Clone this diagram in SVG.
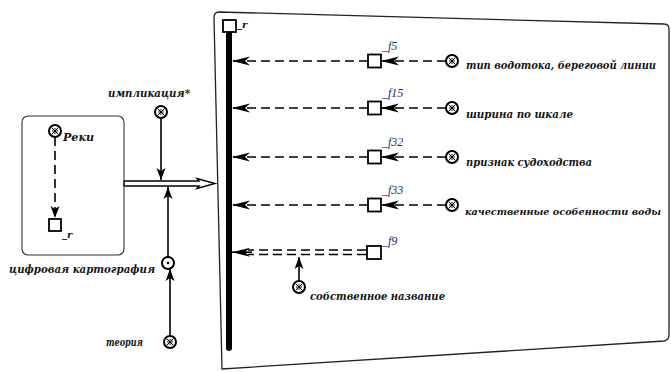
<svg xmlns="http://www.w3.org/2000/svg" width="671" height="372" viewBox="0 0 671 372">
<style>
text{font-family:"DejaVu Serif","Liberation Serif",serif;font-style:italic;font-weight:bold;fill:#151515}
.lbl{font-size:11.5px}
.sm{font-size:10.5px}
.xs{font-size:9.6px}
.f{font-family:"Liberation Serif",serif;font-size:12px;fill:#1d2a6e;font-weight:normal}
.ln{stroke:#000;stroke-width:1.6;fill:none}
.dash{stroke:#000;stroke-width:1.6;fill:none;stroke-dasharray:9 5}
.node{fill:#fff;stroke:#000;stroke-width:1.8}
.circ{fill:#fff;stroke:#000;stroke-width:2}
.x{stroke:#000;stroke-width:1}
</style>
<defs>
<marker id="ah" markerUnits="userSpaceOnUse" markerWidth="18" markerHeight="10" refX="18" refY="5" orient="auto" viewBox="0 0 18 10">
<path d="M0,0.5 L18,5 L0,9.5 L5,5 z" fill="#000"/>
</marker>
<marker id="ahs" markerUnits="userSpaceOnUse" markerWidth="12" markerHeight="10" refX="12" refY="5" orient="auto" viewBox="0 0 12 10">
<path d="M0,0.5 L12,5 L0,9.5 L3,5 z" fill="#000"/>
</marker>
<g id="cx">
<circle r="6" class="circ"/>
<circle r="2.2" fill="none" stroke="#000" stroke-width="0.9"/>
<path d="M-3.5,-3.5 L3.5,3.5 M-3.5,3.5 L3.5,-3.5" class="x"/>
</g>
</defs>

<g id="panel">
<path d="M219,12 L664,24 Q669,24 669,29 L669,335 Q669,340 664,341 L222,369 L214,18 Q214,12 219,12 Z" fill="#fff" stroke="#222" stroke-width="1.3"/>
</g>

<g id="connectors">
<line x1="55" y1="137" x2="55" y2="218" class="dash" marker-end="url(#ahs)"/>
<line x1="161" y1="118" x2="161" y2="180" class="ln" marker-end="url(#ahs)"/>
<line x1="168" y1="257" x2="168" y2="187" class="ln" marker-end="url(#ahs)"/>
<line x1="170" y1="336" x2="170" y2="269" class="ln" marker-end="url(#ahs)"/>
<path d="M124,181 L199,181 L197,178.5 L215,183.5 L197,188.5 L199,186 L124,186 Z" fill="#fff" stroke="#000" stroke-width="1.4" stroke-linejoin="miter"/>
<line x1="368" y1="61" x2="232" y2="61" class="dash" marker-end="url(#ah)"/>
<line x1="446" y1="61" x2="381" y2="61" class="dash" marker-end="url(#ah)"/>
<line x1="368" y1="108" x2="232" y2="108" class="dash" marker-end="url(#ah)"/>
<line x1="446" y1="108" x2="381" y2="108" class="dash" marker-end="url(#ah)"/>
<line x1="368" y1="157" x2="232" y2="157" class="dash" marker-end="url(#ah)"/>
<line x1="446" y1="157" x2="381" y2="157" class="dash" marker-end="url(#ah)"/>
<line x1="368" y1="205" x2="232" y2="205" class="dash" marker-end="url(#ah)"/>
<line x1="446" y1="205" x2="381" y2="205" class="dash" marker-end="url(#ah)"/>
<line x1="366" y1="250" x2="248" y2="250" class="dash" stroke-width="1.4"/>
<line x1="366" y1="254.5" x2="248" y2="254.5" class="dash" stroke-width="1.4"/>
<line x1="252" y1="252.2" x2="232" y2="252.2" class="ln" marker-end="url(#ah)"/>
<line x1="299" y1="281" x2="299" y2="257" class="ln" marker-end="url(#ahs)"/>
</g>

<g id="reki-box">
<rect x="22" y="116" width="102" height="139" rx="6" fill="none" stroke="#333" stroke-width="1.1"/>
</g>
<g id="reki">
<use href="#cx" x="55" y="131"/>
<text x="63" y="141" class="lbl" textLength="31" lengthAdjust="spacingAndGlyphs">Реки</text>
</g>
<g id="r-left">
<rect x="49" y="219" width="12" height="12" class="node"/>
<text x="62" y="238" font-size="10">_r</text>
</g>
<g id="implication">
<use href="#cx" x="161" y="112"/>
<text x="108" y="97" class="lbl" textLength="82" lengthAdjust="spacingAndGlyphs">импликация*</text>
</g>
<g id="cartography">
<circle cx="168" cy="263" r="6" class="circ"/>
<circle cx="168" cy="263" r="1.3" fill="#000"/>
<text x="9" y="273" class="lbl" textLength="146" lengthAdjust="spacingAndGlyphs">цифровая картография</text>
</g>
<g id="theory">
<use href="#cx" x="170" y="342"/>
<text x="106" y="346" class="lbl" textLength="37" lengthAdjust="spacingAndGlyphs">теория</text>
</g>

<g id="r-top">
<line x1="229" y1="33" x2="229" y2="348" stroke="#000" stroke-width="6" stroke-linecap="round"/>
<rect x="223" y="20" width="13" height="12" class="node"/>
<text x="237" y="28" font-size="10">_r</text>
</g>

<g id="f5">
<rect x="368" y="54.5" width="13" height="13" class="node"/>
<text x="382" y="50" class="f">_f5</text>
</g>
<g id="f15">
<rect x="368" y="101.5" width="13" height="13" class="node"/>
<text x="382" y="97" class="f">_f15</text>
</g>
<g id="f32">
<rect x="368" y="150.5" width="13" height="13" class="node"/>
<text x="382" y="146" class="f">_f32</text>
</g>
<g id="f33">
<rect x="368" y="198.5" width="13" height="13" class="node"/>
<text x="382" y="194" class="f">_f33</text>
</g>
<g id="f9">
<rect x="367" y="246" width="14" height="13" class="node"/>
<text x="382" y="245" class="f">_f9</text>
</g>

<g id="tip-vodotoka">
<use href="#cx" x="452" y="61"/>
<text x="466" y="69" class="sm" textLength="190" lengthAdjust="spacingAndGlyphs">тип водотока, береговой линии</text>
</g>
<g id="shirina">
<use href="#cx" x="452" y="108"/>
<text x="466" y="118" class="lbl" textLength="107" lengthAdjust="spacingAndGlyphs">ширина по шкале</text>
</g>
<g id="priznak">
<use href="#cx" x="452" y="157"/>
<text x="466" y="166" class="lbl" textLength="126" lengthAdjust="spacingAndGlyphs">признак судоходства</text>
</g>
<g id="kachestvo">
<use href="#cx" x="452" y="205"/>
<text x="465" y="215" class="xs" textLength="196" lengthAdjust="spacingAndGlyphs">качественные особенности воды</text>
</g>
<g id="sobstvennoe">
<use href="#cx" x="299" y="287"/>
<text x="310" y="300" class="lbl" textLength="135" lengthAdjust="spacingAndGlyphs">собственное название</text>
</g>
</svg>
